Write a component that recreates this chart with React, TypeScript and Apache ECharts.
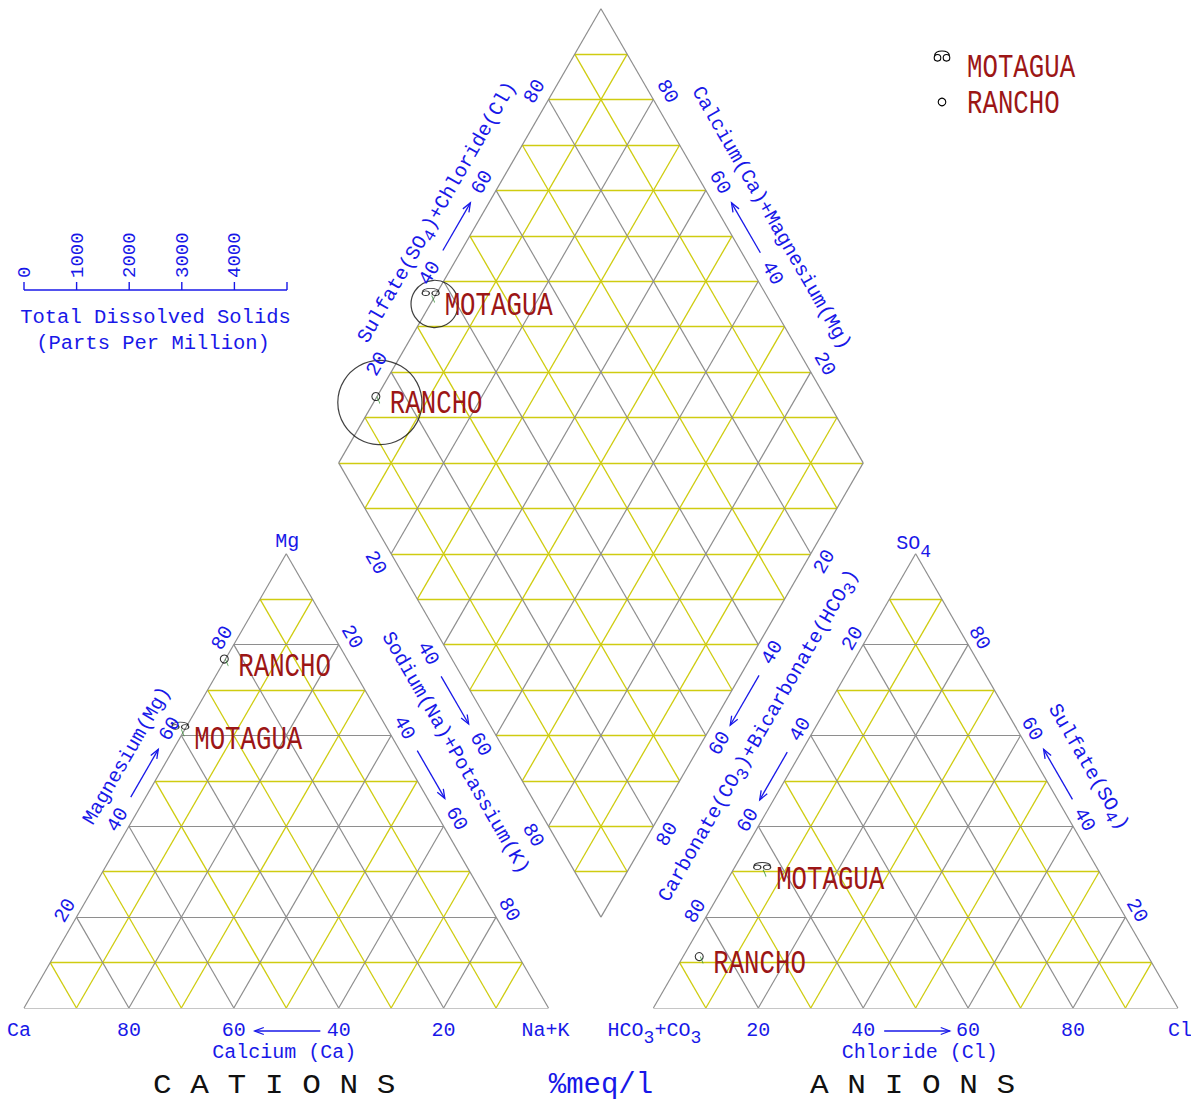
import React, { useEffect, useRef } from "react";
import * as echarts from "echarts";

// ---------------- data ----------------
const sampleNames = ["MOTAGUA", "RANCHO"];
const cationCa = [39.7, 23.3];
const cationMg = [59.5, 75.5];
const cationNaK = [0.8, 1.2];
const anionHCO3 = [64.2, 85.5];
const anionSO4 = [28.6, 10.0];
const anionCl = [7.2, 4.5];
const tdsPpm = [450, 800];

const gridPercents = [10, 20, 30, 40, 50, 60, 70, 80, 90];
const edgeTickPercents = [20, 40, 60, 80];
const tdsTicks = [0, 1000, 2000, 3000, 4000, 5000];
const tdsTickLabels = ["0", "1000", "2000", "3000", "4000"];

// ---------------- layout / style ----------------
const W = 1191;
const HGT = 1103;
const SQ = Math.sqrt(3) / 2;
const GAP = 20;
const PX = 5.245;
const BASE_Y = 1008;
const LEFT_X = 24;
const XMAX = 200 + GAP;
const YMAX = (200 + GAP) * SQ;

const BLUE = "#1818e8";
const RED = "#9c1616";
const GRAY = "#8e8e8e";
const YELLOW = "#cfcc10";
const FONT = '"Liberation Mono", "DejaVu Sans Mono", monospace';

const TDS_X0 = 24;
const TDS_Y = 290;
const TDS_PX_PER_PPM = 263 / 5000;

const OMEGA_PATH =
  "M-1.2,1.8 A3.3,3.3 0 1,1 -7.8,1.8 A3.3,3.3 0 1,1 -1.2,1.8 Z M7.8,1.8 A3.3,3.3 0 1,1 1.2,1.8 A3.3,3.3 0 1,1 7.8,1.8 Z M-7.5,-0.5 C-6.5,-6.5 6.5,-6.5 7.5,-0.5";
const TICK_PATH = "M0,0 L3,7";

type P = [number, number];
const lerp = (a: P, b: P, t: number): P => [a[0] + (b[0] - a[0]) * t, a[1] + (b[1] - a[1]) * t];

// vertices (data units, triangle side = 100)
const LCa: P = [0, 0];
const LNa: P = [100, 0];
const LMg: P = [50, 100 * SQ];
const RHC: P = [100 + GAP, 0];
const RCl: P = [200 + GAP, 0];
const RSO: P = [150 + GAP, 100 * SQ];
const DL: P = [50 + GAP / 2, (100 + GAP) * SQ];
const DT: P = [100 + GAP / 2, (200 + GAP) * SQ];
const DR: P = [150 + GAP / 2, (100 + GAP) * SQ];
const DB: P = [100 + GAP / 2, GAP * SQ];
const LC: P = [50, (100 * SQ) / 3];
const RC: P = [150 + GAP, (100 * SQ) / 3];
const DC: P = [100 + GAP / 2, (100 + GAP) * SQ];

const cat = (ca: number, mg: number, na: number): P => [na + mg / 2, mg * SQ];
const an = (hc: number, so: number, cl: number): P => [RHC[0] + cl + so / 2, so * SQ];
const dia = (s: number, na: number): P => [DL[0] + 0.5 * s + 0.5 * na, DL[1] + SQ * (s - na)];

function triSegments(A: P, B: P, C: P, gray: P[][], yellow: P[][]) {
  gray.push([A, B], [B, C], [C, A]);
  gridPercents.forEach((v) => {
    const t = v / 100;
    const target = v % 20 === 0 ? gray : yellow;
    target.push([lerp(A, C, t), lerp(B, C, t)]);
    target.push([lerp(A, B, t), lerp(C, B, t)]);
    target.push([lerp(B, A, t), lerp(C, A, t)]);
  });
}

function diamondSegments(gray: P[][], yellow: P[][]) {
  gray.push([DL, DT], [DT, DR], [DR, DB], [DB, DL]);
  gridPercents.forEach((v) => {
    const t = v / 100;
    const target = v % 20 === 0 ? gray : yellow;
    target.push([lerp(DL, DT, t), lerp(DB, DR, t)]);
    target.push([lerp(DL, DB, t), lerp(DT, DR, t)]);
  });
  for (let j = 1; j < 20; j++) {
    if (j <= 10) yellow.push([lerp(DB, DL, j / 10), lerp(DB, DR, j / 10)]);
    else yellow.push([lerp(DT, DL, (20 - j) / 10), lerp(DT, DR, (20 - j) / 10)]);
  }
}

export default function App() {
  const ref = useRef<HTMLDivElement>(null);

  useEffect(() => {
    const el = ref.current;
    if (!el) return;
    try {
      echarts.graphic.registerShape("omega", echarts.graphic.extendPath(OMEGA_PATH, {}) as any);
    } catch (e) {
      /* already registered */
    }
    const chart = echarts.init(el, undefined, { renderer: "svg" });

    const gray: P[][] = [];
    const yellow: P[][] = [];
    triSegments(LCa, LNa, LMg, gray, yellow);
    triSegments(RHC, RCl, RSO, gray, yellow);
    diamondSegments(gray, yellow);

    const catPts = sampleNames.map((_, i) => cat(cationCa[i], cationMg[i], cationNaK[i]));
    const anPts = sampleNames.map((_, i) => an(anionHCO3[i], anionSO4[i], anionCl[i]));
    const diaPts = sampleNames.map((_, i) =>
      dia(anionSO4[i] + anionCl[i], cationNaK[i])
    );

    const markerStyles = [
      { symbol: "path://" + OMEGA_PATH, symbolSize: [17, 11], symbolOffset: [-4, -12] },
      { symbol: "circle", symbolSize: 8, symbolOffset: [-4, -6] },
    ];
    const tickOffsets = [
      [-1.5, -5],
      [-1.5, -2.5],
    ];

    const series: any[] = [
      {
        type: "lines",
        coordinateSystem: "cartesian2d",
        silent: true,
        z: 1,
        lineStyle: { color: YELLOW, width: 1.3, opacity: 1, curveness: 0 },
        data: yellow.map((s) => ({ coords: s })),
      },
      {
        type: "lines",
        coordinateSystem: "cartesian2d",
        silent: true,
        z: 2,
        lineStyle: { color: GRAY, width: 1.2, opacity: 1, curveness: 0 },
        data: gray.map((s) => ({ coords: s })),
      },
      {
        type: "scatter",
        silent: true,
        z: 4,
        symbol: "circle",
        symbolSize: (_v: any, p: any) => 2 * tdsPpm[p.dataIndex] * TDS_PX_PER_PPM,
        itemStyle: { color: "rgba(0,0,0,0)", borderColor: "#111", borderWidth: 1.2 },
        data: diaPts,
      },
    ];
    sampleNames.forEach((name, i) => {
      series.push({
        type: "scatter",
        name,
        silent: true,
        z: 5,
        symbolKeepAspect: true,
        ...markerStyles[i],
        itemStyle: { color: "rgba(0,0,0,0)", borderColor: "#000", borderWidth: 1.1 },
        data: [catPts[i], anPts[i], diaPts[i]],
      });
      series.push({
        type: "scatter",
        silent: true,
        z: 5,
        symbol: "path://" + TICK_PATH,
        symbolSize: [3, 7],
        symbolOffset: tickOffsets[i],
        itemStyle: { color: "rgba(0,0,0,0)", borderColor: "#2a8a2a", borderWidth: 1 },
        data: [catPts[i], anPts[i], diaPts[i]],
      });
    });

    chart.setOption({
      animation: false,
      backgroundColor: "#ffffff",
      grid: {
        left: LEFT_X,
        top: BASE_Y - YMAX * PX,
        width: XMAX * PX,
        height: YMAX * PX,
        show: false,
      },
      xAxis: { type: "value", min: 0, max: XMAX, show: false },
      yAxis: { type: "value", min: 0, max: YMAX, show: false },
      series,
    });

    const toPx = (p: P): P => chart.convertToPixel({ gridIndex: 0 }, p) as unknown as P;

    const els: any[] = [];
    const baseRich = {
      n: { fontSize: 20, fontFamily: FONT, fill: BLUE, lineHeight: 20 },
      s: { fontSize: 17, fontFamily: FONT, fill: BLUE, lineHeight: 17, padding: [12, 0, 0, 0] },
      b: { fontSize: 20, fontFamily: FONT, fill: BLUE, lineHeight: 20 },
      t: { fontSize: 18, fontFamily: FONT, fill: BLUE, lineHeight: 18, padding: [16, 0, 0, 0] },
    };
    const text = (x: number, y: number, str: string, opts: any = {}) => {
      els.push({
        type: "text",
        x,
        y,
        rotation: opts.rotation || 0,
        scaleX: opts.scaleX || 1,
        silent: true,
        z: 10,
        style: {
          text: str,
          fill: opts.fill || BLUE,
          fontSize: opts.fontSize || 20,
          fontFamily: FONT,
          align: opts.align || "center",
          verticalAlign: "middle",
          rich: opts.rich,
        },
      });
    };
    const arrow = (tail: P, head: P) => {
      const dx = head[0] - tail[0];
      const dy = head[1] - tail[1];
      const L = Math.hypot(dx, dy);
      const ux = dx / L;
      const uy = dy / L;
      const nx = -uy;
      const ny = ux;
      els.push({
        type: "polyline",
        silent: true,
        z: 10,
        shape: { points: [tail, head] },
        style: { stroke: BLUE, lineWidth: 1.3, fill: null },
      });
      els.push({
        type: "polyline",
        silent: true,
        z: 10,
        shape: {
          points: [
            [head[0] - ux * 9 + nx * 3.5, head[1] - uy * 9 + ny * 3.5],
            [head[0], head[1]],
            [head[0] - ux * 9 - nx * 3.5, head[1] - uy * 9 - ny * 3.5],
          ],
        },
        style: { stroke: BLUE, lineWidth: 1.3, fill: null },
      });
    };

    // rotated edge labels
    const edgeSpecs = [
      { a: LCa, b: LMg, inside: LC, rot: 60, off: 13, lab: (v: number) => String(v),
        title: { t: 0.515, off: 37, text: "{n|Magnesium(Mg)}" }, arrow: [0.45, 0.555] },
      { a: LMg, b: LNa, inside: LC, rot: -60, off: 15, lab: (v: number) => String(v),
        title: { t: 0.49, off: 47, text: "{n|Sodium(Na)+Potassium(K)}" }, arrow: [0.45, 0.555] },
      { a: DL, b: DB, inside: DC, rot: -60, off: 18, lab: (v: number) => String(v), arrow: [0.45, 0.555] },
      { a: DL, b: DT, inside: DC, rot: 60, off: 16, lab: (v: number) => String(v),
        title: { t: 0.508, off: 40, text: "{n|Sulfate(SO}{s|4}{n|)+Chloride(Cl)}" }, arrow: [0.45, 0.555] },
      { a: DT, b: DR, inside: DC, rot: -60, off: 16, lab: (v: number) => String(100 - v),
        title: { t: 0.508, off: 43, text: "{n|Calcium(Ca)+Magnesium(Mg)}" }, arrow: [0.555, 0.445] },
      { a: DR, b: DB, inside: DC, rot: 60, off: 16, lab: (v: number) => String(v), arrow: [0.45, 0.56] },
      { a: RSO, b: RHC, inside: RC, rot: 60, off: 12, lab: (v: number) => String(v),
        title: { t: 0.45, off: 45, text: "{n|Carbonate(CO}{s|3}{n|)+Bicarbonate(HCO}{s|3}{n|)}" }, arrow: [0.45, 0.555] },
      { a: RSO, b: RCl, inside: RC, rot: -60, off: 13, lab: (v: number) => String(100 - v),
        title: { t: 0.517, off: 43, text: "{n|Sulfate(SO}{s|4}{n|)}" }, arrow: [0.555, 0.445] },
    ];

    edgeSpecs.forEach((e: any) => {
      const pa = toPx(e.a);
      const pb = toPx(e.b);
      const pin = toPx(e.inside);
      const dx = pb[0] - pa[0];
      const dy = pb[1] - pa[1];
      const L = Math.hypot(dx, dy);
      let nx = dy / L;
      let ny = -dx / L;
      const mx = (pa[0] + pb[0]) / 2;
      const my = (pa[1] + pb[1]) / 2;
      if (nx * (pin[0] - mx) + ny * (pin[1] - my) > 0) {
        nx = -nx;
        ny = -ny;
      }
      const at = (t: number, off: number): P => [pa[0] + dx * t + nx * off, pa[1] + dy * t + ny * off];
      const rad = (e.rot * Math.PI) / 180;
      edgeTickPercents.forEach((v) => {
        const p = at(v / 100, e.off);
        text(p[0], p[1], e.lab(v), { rotation: rad });
      });
      if (e.title) {
        const p = at(e.title.t, e.title.off);
        text(p[0], p[1], e.title.text, { rotation: rad, rich: baseRich });
      }
      if (e.arrow) {
        arrow(at(e.arrow[0], e.off), at(e.arrow[1], e.off));
      }
    });

    // base labels
    const pCa = toPx(LCa);
    const pNa = toPx(LNa);
    const pHC = toPx(RHC);
    const pCl = toPx(RCl);
    const pMg = toPx(LMg);
    const pSO = toPx(RSO);
    const pDB = toPx(DB);
    edgeTickPercents.forEach((v) => {
      const p = toPx(lerp(LCa, LNa, v / 100));
      text(p[0], p[1] + 22, String(100 - v));
      const q = toPx(lerp(RHC, RCl, v / 100));
      text(q[0], q[1] + 22, String(v));
    });
    text(pCa[0] - 5, pCa[1] + 22, "Ca");
    text(pNa[0] - 3, pNa[1] + 22, "Na+K");
    text(pHC[0] + 1, pHC[1] + 22, "{b|HCO}{t|3}{b|+CO}{t|3}", { rich: baseRich });
    text(pCl[0] + 2, pCl[1] + 22, "Cl");
    const calc = toPx(lerp(LCa, LNa, 0.496));
    text(calc[0], calc[1] + 44, "Calcium (Ca)");
    const chl = toPx(lerp(RHC, RCl, 0.508));
    text(chl[0], chl[1] + 44, "Chloride (Cl)");
    {
      const t1 = toPx(lerp(LCa, LNa, 0.565));
      const h1 = toPx(lerp(LCa, LNa, 0.44));
      arrow([t1[0], t1[1] + 23], [h1[0], h1[1] + 23]);
      const t2 = toPx(lerp(RHC, RCl, 0.44));
      const h2 = toPx(lerp(RHC, RCl, 0.565));
      arrow([t2[0], t2[1] + 23], [h2[0], h2[1] + 23]);
    }
    text(pMg[0] + 1, pMg[1] - 12, "Mg");
    text(pSO[0] - 2, pSO[1] - 10, "{b|SO}{t|4}", { rich: baseRich });

    // bottom captions
    text(pMg[0] - 12, BASE_Y + 77, "C A T I O N S", { fill: "#111", fontSize: 28, scaleX: 1.11 });
    text(pSO[0] - 3, BASE_Y + 77, "A N I O N S", { fill: "#111", fontSize: 28, scaleX: 1.11 });
    text(pDB[0], BASE_Y + 77, "%meq/l", { fontSize: 29 });

    // sample labels next to points
    const labelPts = [catPts, anPts, diaPts];
    labelPts.forEach((arr) => {
      arr.forEach((pt, i) => {
        const p = toPx(pt);
        text(p[0] + 10, p[1] + 2, sampleNames[i], {
          fill: RED,
          fontSize: 33,
          scaleX: 0.78,
          align: "left",
        });
      });
    });

    // legend (top right)
    const legendY = [56, 102];
    const legendTextY = [68, 104];
    els.push({
      type: "omega",
      x: 942,
      y: legendY[0],
      silent: true,
      z: 10,
      style: { fill: "none", stroke: "#000", lineWidth: 1.1 },
    });
    els.push({
      type: "circle",
      silent: true,
      z: 10,
      shape: { cx: 942, cy: legendY[1], r: 3.8 },
      style: { fill: "none", stroke: "#000", lineWidth: 1.1 },
    });
    sampleNames.forEach((name, i) => {
      text(967, legendTextY[i], name, { fill: RED, fontSize: 33, scaleX: 0.78, align: "left" });
    });

    // TDS scale
    const tx = (v: number) => TDS_X0 + v * TDS_PX_PER_PPM;
    els.push({
      type: "polyline",
      silent: true,
      z: 10,
      shape: { points: [[tx(0), TDS_Y], [tx(5000), TDS_Y]] },
      style: { stroke: BLUE, lineWidth: 1.4, fill: null },
    });
    tdsTicks.forEach((v) => {
      els.push({
        type: "polyline",
        silent: true,
        z: 10,
        shape: { points: [[tx(v), TDS_Y], [tx(v), TDS_Y - 8]] },
        style: { stroke: BLUE, lineWidth: 1.4, fill: null },
      });
    });
    tdsTickLabels.forEach((lab, i) => {
      text(tx(tdsTicks[i]) + 1, TDS_Y - 12, lab, {
        rotation: Math.PI / 2,
        align: "left",
        fontSize: 19,
      });
    });
    text(155.5, 317, "Total Dissolved Solids", { fontSize: 20.5 });
    text(153, 343, "(Parts Per Million)", { fontSize: 20.5 });

    chart.setOption({ graphic: { elements: els } });

    return () => {
      chart.dispose();
    };
  }, []);

  return (
    <div
      ref={ref}
      style={{ position: "absolute", left: 0, top: 0, width: W, height: HGT, background: "#fff" }}
    />
  );
}
